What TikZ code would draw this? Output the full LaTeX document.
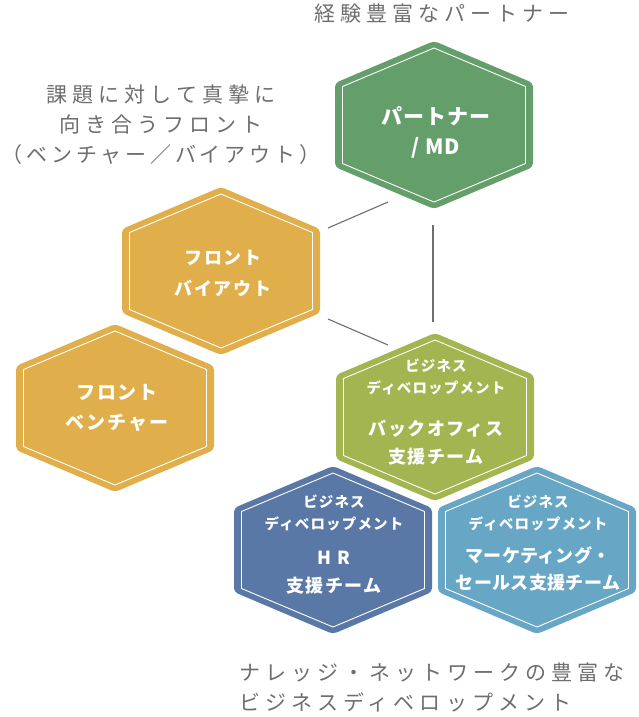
\documentclass[tikz,border=0pt]{standalone}
\usepackage{fontspec}
\newfontfamily\jp{Noto Sans CJK JP}
\definecolor{pgreen}{HTML}{649F6B}
\definecolor{pyellow}{HTML}{E0AF4B}
\definecolor{polive}{HTML}{A3B551}
\definecolor{pblue}{HTML}{5A78A5}
\definecolor{plblue}{HTML}{67A6C4}
\definecolor{pgray}{HTML}{6E6E6E}
\tikzset{
  pics/hexa/.style={code={
    \fill[#1, rounded corners=4pt] (0,-84) -- (99,-42) -- (99,42) -- (0,84) -- (-99,42) -- (-99,-42) -- cycle;
    \draw[white, line width=0.9pt, line join=round] (0,-77) -- (91.5,-38.5) -- (91.5,38.5) -- (0,77) -- (-91.5,38.5) -- (-91.5,-38.5) -- cycle;
  }},
  graytext/.style={text=pgray, inner sep=0pt, font=\jp\fontsize{21}{30}\selectfont\addfontfeatures{LetterSpace=24}},
  biglabel/.style={text=white, inner sep=0pt, align=center, font=\jp\bfseries\fontsize{18}{28}\selectfont\addfontfeatures{LetterSpace=8}},
  smalllabel/.style={text=white, inner sep=0pt, align=center, font=\jp\bfseries\fontsize{14.5}{22}\selectfont\addfontfeatures{LetterSpace=8}},
  conn/.style={draw=pgray, line width=1.1pt}
}
\begin{document}
\begin{tikzpicture}[x=1pt,y=-1pt]
\useasboundingbox (0,0) rectangle (639,717);
% hexagons
\pic at (434,125) {hexa=pgreen};
\pic at (221,271) {hexa=pyellow};
\pic at (115,408) {hexa=pyellow};
\pic at (435,417) {hexa=polive};
\pic at (333,550) {hexa=pblue};
\pic at (537,550) {hexa=plblue};
% connectors
\coordinate (c1a) at (328,228); \coordinate (c1b) at (388,202);
\coordinate (c2a) at (433,225); \coordinate (c2b) at (433,322);
\coordinate (c3a) at (328,319); \coordinate (c3b) at (388,345);
\draw[conn] (c1a) -- (c1b);
\draw[conn] (c2a) -- (c2b);
\draw[conn] (c3a) -- (c3b);
% labels in hexagons
\node[biglabel, font=\jp\bfseries\fontsize{21}{30}\selectfont\addfontfeatures{LetterSpace=4}] (partner) at (436,132) {パートナー\\/ MD};
\node[biglabel, font=\jp\bfseries\fontsize{18}{31}\selectfont\addfontfeatures{LetterSpace=10}] (buyout) at (223,273.5) {フロント\\バイアウト};
\node[biglabel, font=\jp\bfseries\fontsize{19}{30}\selectfont\addfontfeatures{LetterSpace=10}] (venture) at (117,408) {フロント\\ベンチャー};
\node[smalllabel] (bo1) at (436,377) {ビジネス\\ディベロップメント};
\node[biglabel] (bo2) at (436,443) {バックオフィス\\支援チーム};
\node[smalllabel] (hr1) at (334,513) {ビジネス\\ディベロップメント};
\node[biglabel] (hr2) at (334,573) {{\addfontfeatures{LetterSpace=30}HR}\\支援チーム};
\node[smalllabel] (mk1) at (538,513) {ビジネス\\ディベロップメント};
\node[biglabel, font=\jp\bfseries\fontsize{18}{27}\selectfont\addfontfeatures{LetterSpace=2}] (mk2) at (538,568.5) {マーケティング・\\セールス支援チーム};
% gray captions
\node[graytext] (top) at (442,14) {経験豊富なパートナー};
\node[graytext, align=center] (left) at (161,125) {課題に対して真摯に\\向き合うフロント\\{\addfontfeatures{LetterSpace=18}（ベンチャー／バイアウト）}};
\node[graytext, align=left, anchor=west] (bottom) at (239,687.5) {ナレッジ・ネットワークの豊富な\\ビジネスディベロップメント};
\end{tikzpicture}
\end{document}
